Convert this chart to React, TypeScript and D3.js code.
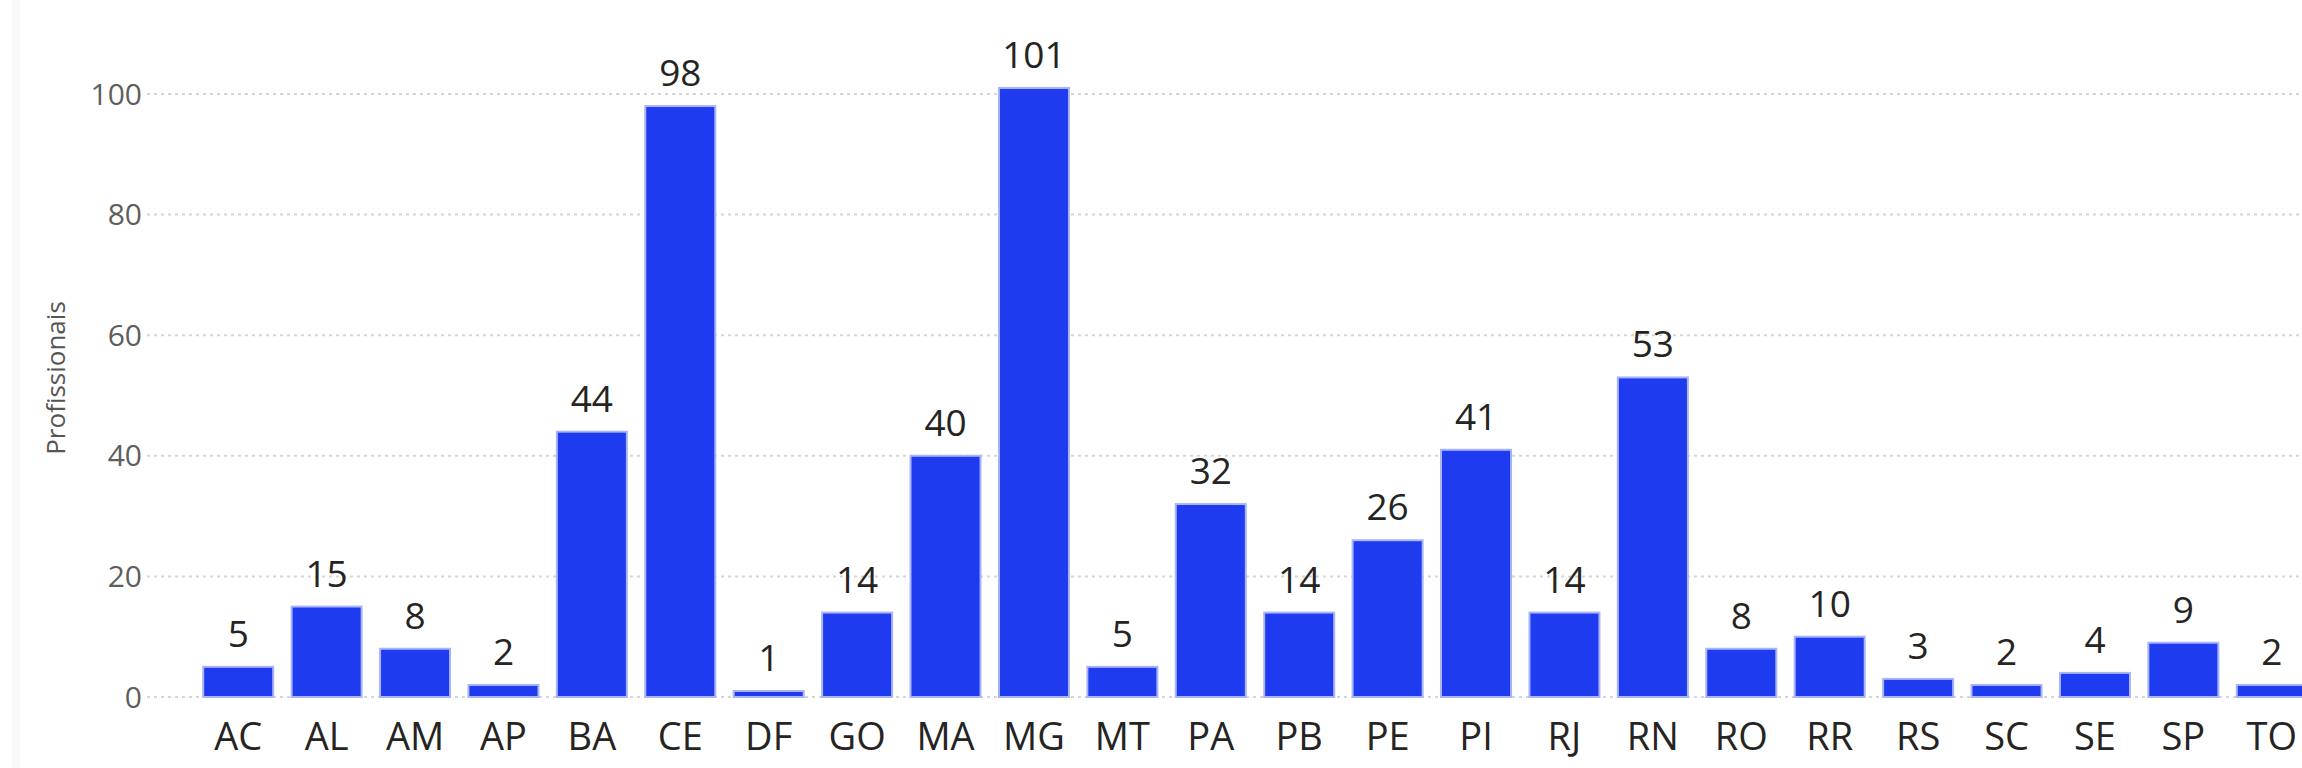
import React, { useLayoutEffect } from "react";
import * as d3 from "d3";

const categories = ["AC","AL","AM","AP","BA","CE","DF","GO","MA","MG","MT","PA","PB","PE","PI","RJ","RN","RO","RR","RS","SC","SE","SP","TO"];
const values = [5,15,8,2,44,98,1,14,40,101,5,32,14,26,41,14,53,8,10,3,2,4,9,2];
const yTicks = [0,20,40,60,80,100];
const yTitle = "Profissionais";

const W = 2302;
const H = 768;

export default function App() {
  useLayoutEffect(() => {
    document.body.style.margin = "0";
  }, []);

  const x = d3.scaleBand<string>()
    .domain(categories)
    .range([194, 2316])
    .paddingInner(0.208)
    .paddingOuter(0.104);

  const y = d3.scaleLinear().domain([0, 100]).range([697, 94]);

  const font = "'Open Sans', 'Segoe UI', 'DejaVu Sans', sans-serif";

  return (
    <svg width={W} height={H} style={{ display: "block", background: "#fff" }}>
      <rect x={12} y={0} width={8} height={H} fill="#f9f9f9" />
      {yTicks.map((t) => (
        <g key={t}>
          <line x1={147} x2={W} y1={y(t)} y2={y(t)} stroke="#d6d6d6" strokeWidth={2} strokeDasharray="3 4" />
          <text x={142} y={y(t)} dy="0.35em" textAnchor="end" fontFamily={font} fontSize={30} fill="#605e5c">{t}</text>
        </g>
      ))}
      <text transform={`translate(56, ${378}) rotate(-90)`} textAnchor="middle" dy="0.35em" fontFamily={font} fontSize={26} fill="#555">{yTitle}</text>
      {categories.map((c, i) => {
        const v = values[i];
        const bx = x(c)!;
        const bw = x.bandwidth();
        const top = y(v);
        return (
          <g key={c}>
            <rect x={bx} y={top} width={bw} height={y(0) - top} fill="#1e3bf0" stroke="#aab4f8" strokeWidth={2} />
            <text x={bx + bw / 2} y={top - 20} textAnchor="middle" fontFamily={font} fontSize={37} fill="#252423">{v}</text>
            <text x={bx + bw / 2} y={750} textAnchor="middle" fontFamily={font} fontSize={38} fill="#252423">{c}</text>
          </g>
        );
      })}
    </svg>
  );
}
